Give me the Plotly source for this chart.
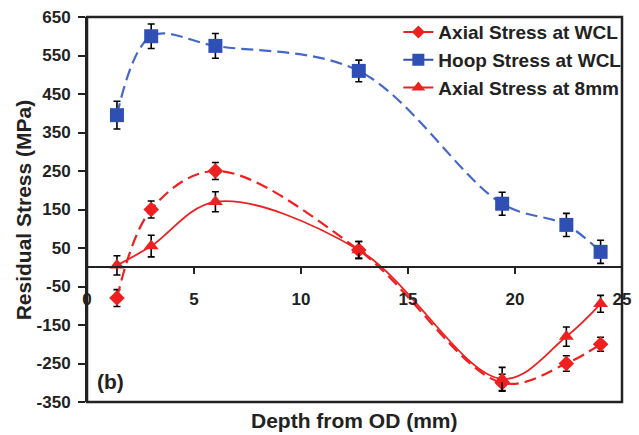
import plotly.graph_objects as go

# Depth positions (mm) of the measurement points
depth = [1.4, 3.0, 6.0, 12.7, 19.4, 22.4, 24.0]

# Residual stress series (MPa) and their error half-widths
axial_wcl = [-80, 150, 250, 45, -300, -250, -200]
axial_wcl_err = [22, 22, 22, 22, 22, 20, 18]
hoop_wcl = [395, 600, 575, 510, 165, 110, 40]
hoop_wcl_err = [36, 32, 32, 28, 30, 30, 30]
axial_8mm = [5, 55, 170, 45, -290, -180, -95]
axial_8mm_err = [25, 28, 26, 22, 30, 25, 22]

series_names = ["Axial Stress at WCL", "Hoop Stress at WCL", "Axial Stress at 8mm"]

y_ticks = [650, 550, 450, 350, 250, 150, 50, -50, -150, -250, -350]
x_ticks = [0, 5, 10, 15, 20, 25]
y_range = [-350, 650]
x_range = [0, 25]

RED = "#ee2020"
BLUE = "#2f4fb5"
BLUE_LINE = "#4467cc"
INK = "#222222"
FONT = "Liberation Sans, Arial, sans-serif"
DASH = "12px,6px"

fig = go.Figure()

err_style = dict(type="data", color="black", thickness=1.6, width=3.5)

fig.add_trace(go.Scatter(
    x=depth, y=hoop_wcl, mode="lines+markers", showlegend=False,
    line=dict(color=BLUE_LINE, width=2.2, dash=DASH, shape="spline", smoothing=1.0),
    marker=dict(symbol="square", size=14, color=BLUE),
    error_y=dict(array=hoop_wcl_err, **err_style),
))
fig.add_trace(go.Scatter(
    x=depth, y=axial_wcl, mode="lines+markers", showlegend=False,
    line=dict(color=RED, width=2.2, dash=DASH, shape="spline", smoothing=1.0),
    marker=dict(symbol="diamond", size=12, color=RED),
    error_y=dict(array=axial_wcl_err, **err_style),
))
fig.add_trace(go.Scatter(
    x=depth, y=axial_8mm, mode="lines+markers", showlegend=False,
    line=dict(color=RED, width=1.8, shape="spline", smoothing=1.0),
    marker=dict(symbol="triangle-up", size=13, color=RED),
    error_y=dict(array=axial_8mm_err, **err_style),
))

# Legend entries drawn with solid lines
legend_styles = [
    (RED, "diamond", 10),
    (BLUE, "square", 12),
    (RED, "triangle-up", 12),
]
for name, (col, sym, sz) in zip(series_names, legend_styles):
    fig.add_trace(go.Scatter(
        x=[None], y=[None], mode="lines+markers", name=name,
        line=dict(color=col, width=2),
        marker=dict(symbol=sym, size=sz, color=col),
    ))

zero_pos = (0 - y_range[0]) / (y_range[1] - y_range[0])

fig.update_layout(
    width=639, height=435,
    margin=dict(l=87, r=8, t=16, b=33),
    paper_bgcolor="white", plot_bgcolor="white",
    font=dict(family=FONT, size=17, color=INK, weight="bold"),
    showlegend=True,
    legend=dict(
        x=1.01, y=1.01, xanchor="right", yanchor="top",
        bgcolor="rgba(0,0,0,0)", borderwidth=0,
        font=dict(family=FONT, size=19, color=INK, weight="bold"),
        itemwidth=30,
    ),
    xaxis=dict(
        range=x_range, tickvals=x_ticks, ticktext=[str(v) for v in x_ticks],
        anchor="free", position=zero_pos,
        showline=True, linecolor=INK, linewidth=2,
        ticks="outside", ticklen=6, tickwidth=2, tickcolor=INK,
        ticklabelstandoff=10, ticklabeloverflow="allow",
        showgrid=False, zeroline=False,
        tickfont=dict(family=FONT, size=17, color=INK, weight="bold"),
    ),
    yaxis=dict(
        range=y_range, tickvals=y_ticks, ticktext=[str(v) for v in y_ticks],
        showline=True, linecolor=INK, linewidth=2,
        ticks="outside", ticklen=7, tickwidth=2, tickcolor=INK,
        ticklabelstandoff=4,
        showgrid=False, zeroline=False,
        tickfont=dict(family=FONT, size=17, color=INK, weight="bold"),
    ),
    shapes=[dict(
        type="rect", xref="paper", yref="paper", x0=0, x1=1, y0=0, y1=1,
        line=dict(color=INK, width=2.5), layer="above",
    )],
    annotations=[
        dict(text="Residual Stress (MPa)", textangle=-90,
             xref="paper", yref="paper", x=-0.118, y=0.5,
             xanchor="center", yanchor="middle", showarrow=False,
             font=dict(family=FONT, size=21, color=INK, weight="bold")),
        dict(text="Depth from OD (mm)",
             xref="paper", yref="paper", x=0.5, y=0,
             xanchor="center", yanchor="top", yshift=-5, showarrow=False,
             font=dict(family=FONT, size=21, color=INK, weight="bold")),
        dict(text="(b)",
             xref="paper", yref="paper", x=0.015, y=0.052,
             xanchor="left", yanchor="middle", showarrow=False,
             font=dict(family=FONT, size=21, color=INK, weight="bold")),
    ],
)

fig.write_html("out.html")
